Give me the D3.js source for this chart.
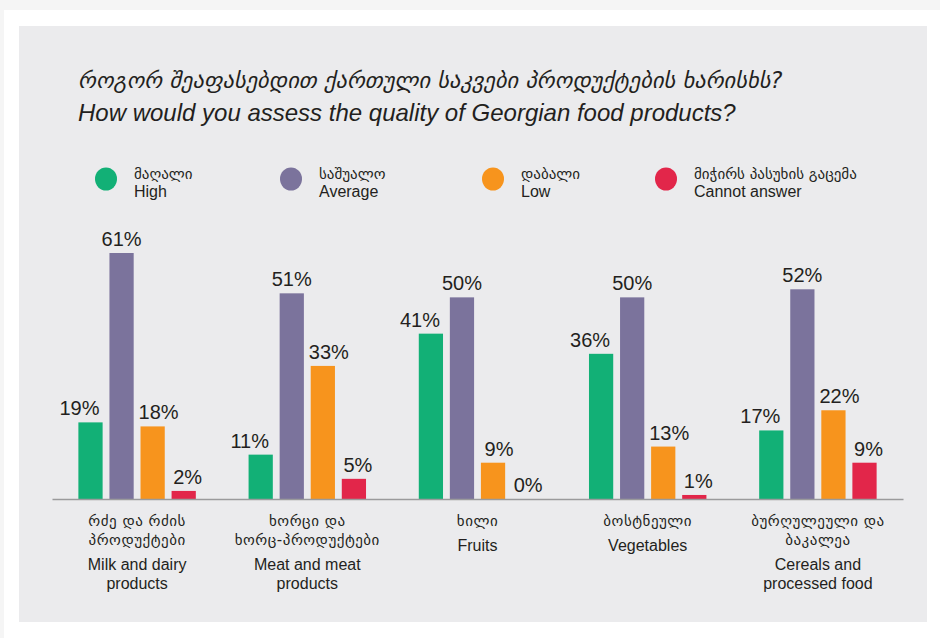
<!DOCTYPE html>
<html>
<head>
<meta charset="utf-8">
<script src="https://cdn.jsdelivr.net/npm/d3@7"></script>
<style>
  body { margin: 0; background: #f5f5f5; }
  svg { display: block; }
</style>
</head>
<body>
<div id="chart"></div>
<script>
// categories (Georgian lines, English lines)
const categoriesKa = [
    ["რძე და რძის", "პროდუქტები"],
    ["ხორცი და", "ხორც-პროდუქტები"],
    ["ხილი"],
    ["ბოსტნეული"],
    ["ბურღულეული და", "ბაკალეა"]
];
const categoriesEn = [
    ["Milk and dairy", "products"],
    ["Meat and meat", "products"],
    ["Fruits"],
    ["Vegetables"],
    ["Cereals and", "processed food"]
];

// series
const seriesKa = ["მაღალი", "საშუალო", "დაბალი", "მიჭირს პასუხის გაცემა"];
const seriesEn = ["High", "Average", "Low", "Cannot answer"];

const high = [19, 11, 41, 36, 17];
const average = [61, 51, 50, 50, 52];
const low = [18, 33, 9, 13, 22];
const cannotAnswer = [2, 5, 0, 1, 9];

const titleKa = "როგორ შეაფასებდით ქართული საკვები პროდუქტების ხარისხს?";
const titleEn = "How would you assess the quality of Georgian food products?";

const width = 940, height = 638;
const latin = "'Liberation Sans', Arial, sans-serif";
const geo = "'DejaVu Sans', sans-serif";
const textColor = "#231f20";

const colors = ["#12b076", "#7b739c", "#f7941d", "#e2264a"];
// small horizontal nudges of value labels, per series
const labelDx = [-11, 0, 6, 4];

const values = [high, average, low, cannotAnswer];

const svg = d3.select("#chart").append("svg")
    .attr("width", width)
    .attr("height", height);

// white card and grey panel
svg.append("rect").attr("x", 4).attr("y", 10).attr("width", width - 4).attr("height", height - 10).attr("fill", "#ffffff");
svg.append("rect").attr("x", 19).attr("y", 26).attr("width", 908).attr("height", 596).attr("fill", "#ebebed");

// titles
svg.append("text")
    .attr("x", 78).attr("y", 88)
    .style("font-family", geo).style("font-style", "italic")
    .style("font-size", "22.5px").style("fill", textColor)
    .text(titleKa);
svg.append("text")
    .attr("x", 78).attr("y", 121)
    .style("font-family", latin).style("font-style", "italic")
    .style("font-size", "24px").style("fill", textColor)
    .text(titleEn);

// legend
const legendX = [106, 291, 493, 666];
const legend = svg.selectAll("g.legend")
    .data(seriesEn)
    .enter()
    .append("g")
    .attr("class", "legend")
    .attr("transform", (d, i) => `translate(${legendX[i]}, 179)`);

legend.append("ellipse")
    .attr("rx", 11).attr("ry", 11.5)
    .attr("fill", (d, i) => colors[i]);
legend.append("text")
    .attr("x", 28).attr("y", 0)
    .style("font-family", geo).style("font-size", "15px").style("fill", textColor)
    .text((d, i) => seriesKa[i]);
legend.append("text")
    .attr("x", 28).attr("y", 18)
    .style("font-family", latin).style("font-size", "16px").style("fill", textColor)
    .text(d => d);

// scales
const x0 = d3.scaleBand()
    .domain(d3.range(categoriesEn.length))
    .range([52, 903])
    .paddingInner(0.31)
    .paddingOuter(0.155);

const x1 = d3.scaleBand()
    .domain(d3.range(seriesEn.length))
    .range([0, x0.bandwidth()])
    .paddingInner(0.22);

const y = d3.scaleLinear()
    .domain([0, 61])
    .range([499, 253]);

// bars
const groups = svg.selectAll("g.group")
    .data(categoriesEn)
    .enter()
    .append("g")
    .attr("class", "group")
    .attr("transform", (d, i) => `translate(${x0(i)}, 0)`);

groups.each(function(d, ci) {
    const g = d3.select(this);
    const rows = values.map((s, si) => ({ si: si, v: s[ci] }));

    g.selectAll("rect")
        .data(rows)
        .enter()
        .append("rect")
        .attr("x", r => x1(r.si))
        .attr("y", r => y(r.v))
        .attr("width", x1.bandwidth())
        .attr("height", r => y(0) - y(r.v))
        .attr("fill", r => colors[r.si]);

    g.selectAll("text.value")
        .data(rows)
        .enter()
        .append("text")
        .attr("class", "value")
        .attr("x", r => x1(r.si) + x1.bandwidth() / 2 + labelDx[r.si])
        .attr("y", r => y(r.v) - 7)
        .attr("text-anchor", "middle")
        .style("font-family", latin).style("font-size", "20px").style("fill", textColor)
        .text(r => r.v + "%");
});

// baseline axis
const axis = svg.append("g")
    .attr("transform", `translate(0, ${y(0)})`)
    .call(d3.axisBottom(x0).tickSize(0).tickFormat(""));
axis.select(".domain").attr("stroke", "#9a9a9c").attr("stroke-width", 1.5);

// category labels
const catLabels = svg.selectAll("g.cat")
    .data(categoriesEn)
    .enter()
    .append("g")
    .attr("class", "cat")
    .attr("transform", (d, i) => `translate(${x0(i) + x0.bandwidth() / 2}, 526)`);

catLabels.each(function(d, i) {
    const g = d3.select(this);
    const ka = categoriesKa[i];
    ka.forEach((line, j) => {
        g.append("text")
            .attr("y", j * 19)
            .attr("text-anchor", "middle")
            .style("font-family", geo).style("font-size", "15px")
            .style("letter-spacing", "0.5px").style("fill", textColor)
            .text(line);
    });
    const start = (ka.length - 1) * 19 + 25;
    d.forEach((line, j) => {
        g.append("text")
            .attr("y", start + j * 19)
            .attr("text-anchor", "middle")
            .style("font-family", latin).style("font-size", "16px").style("fill", textColor)
            .text(line);
    });
});
</script>
</body>
</html>
